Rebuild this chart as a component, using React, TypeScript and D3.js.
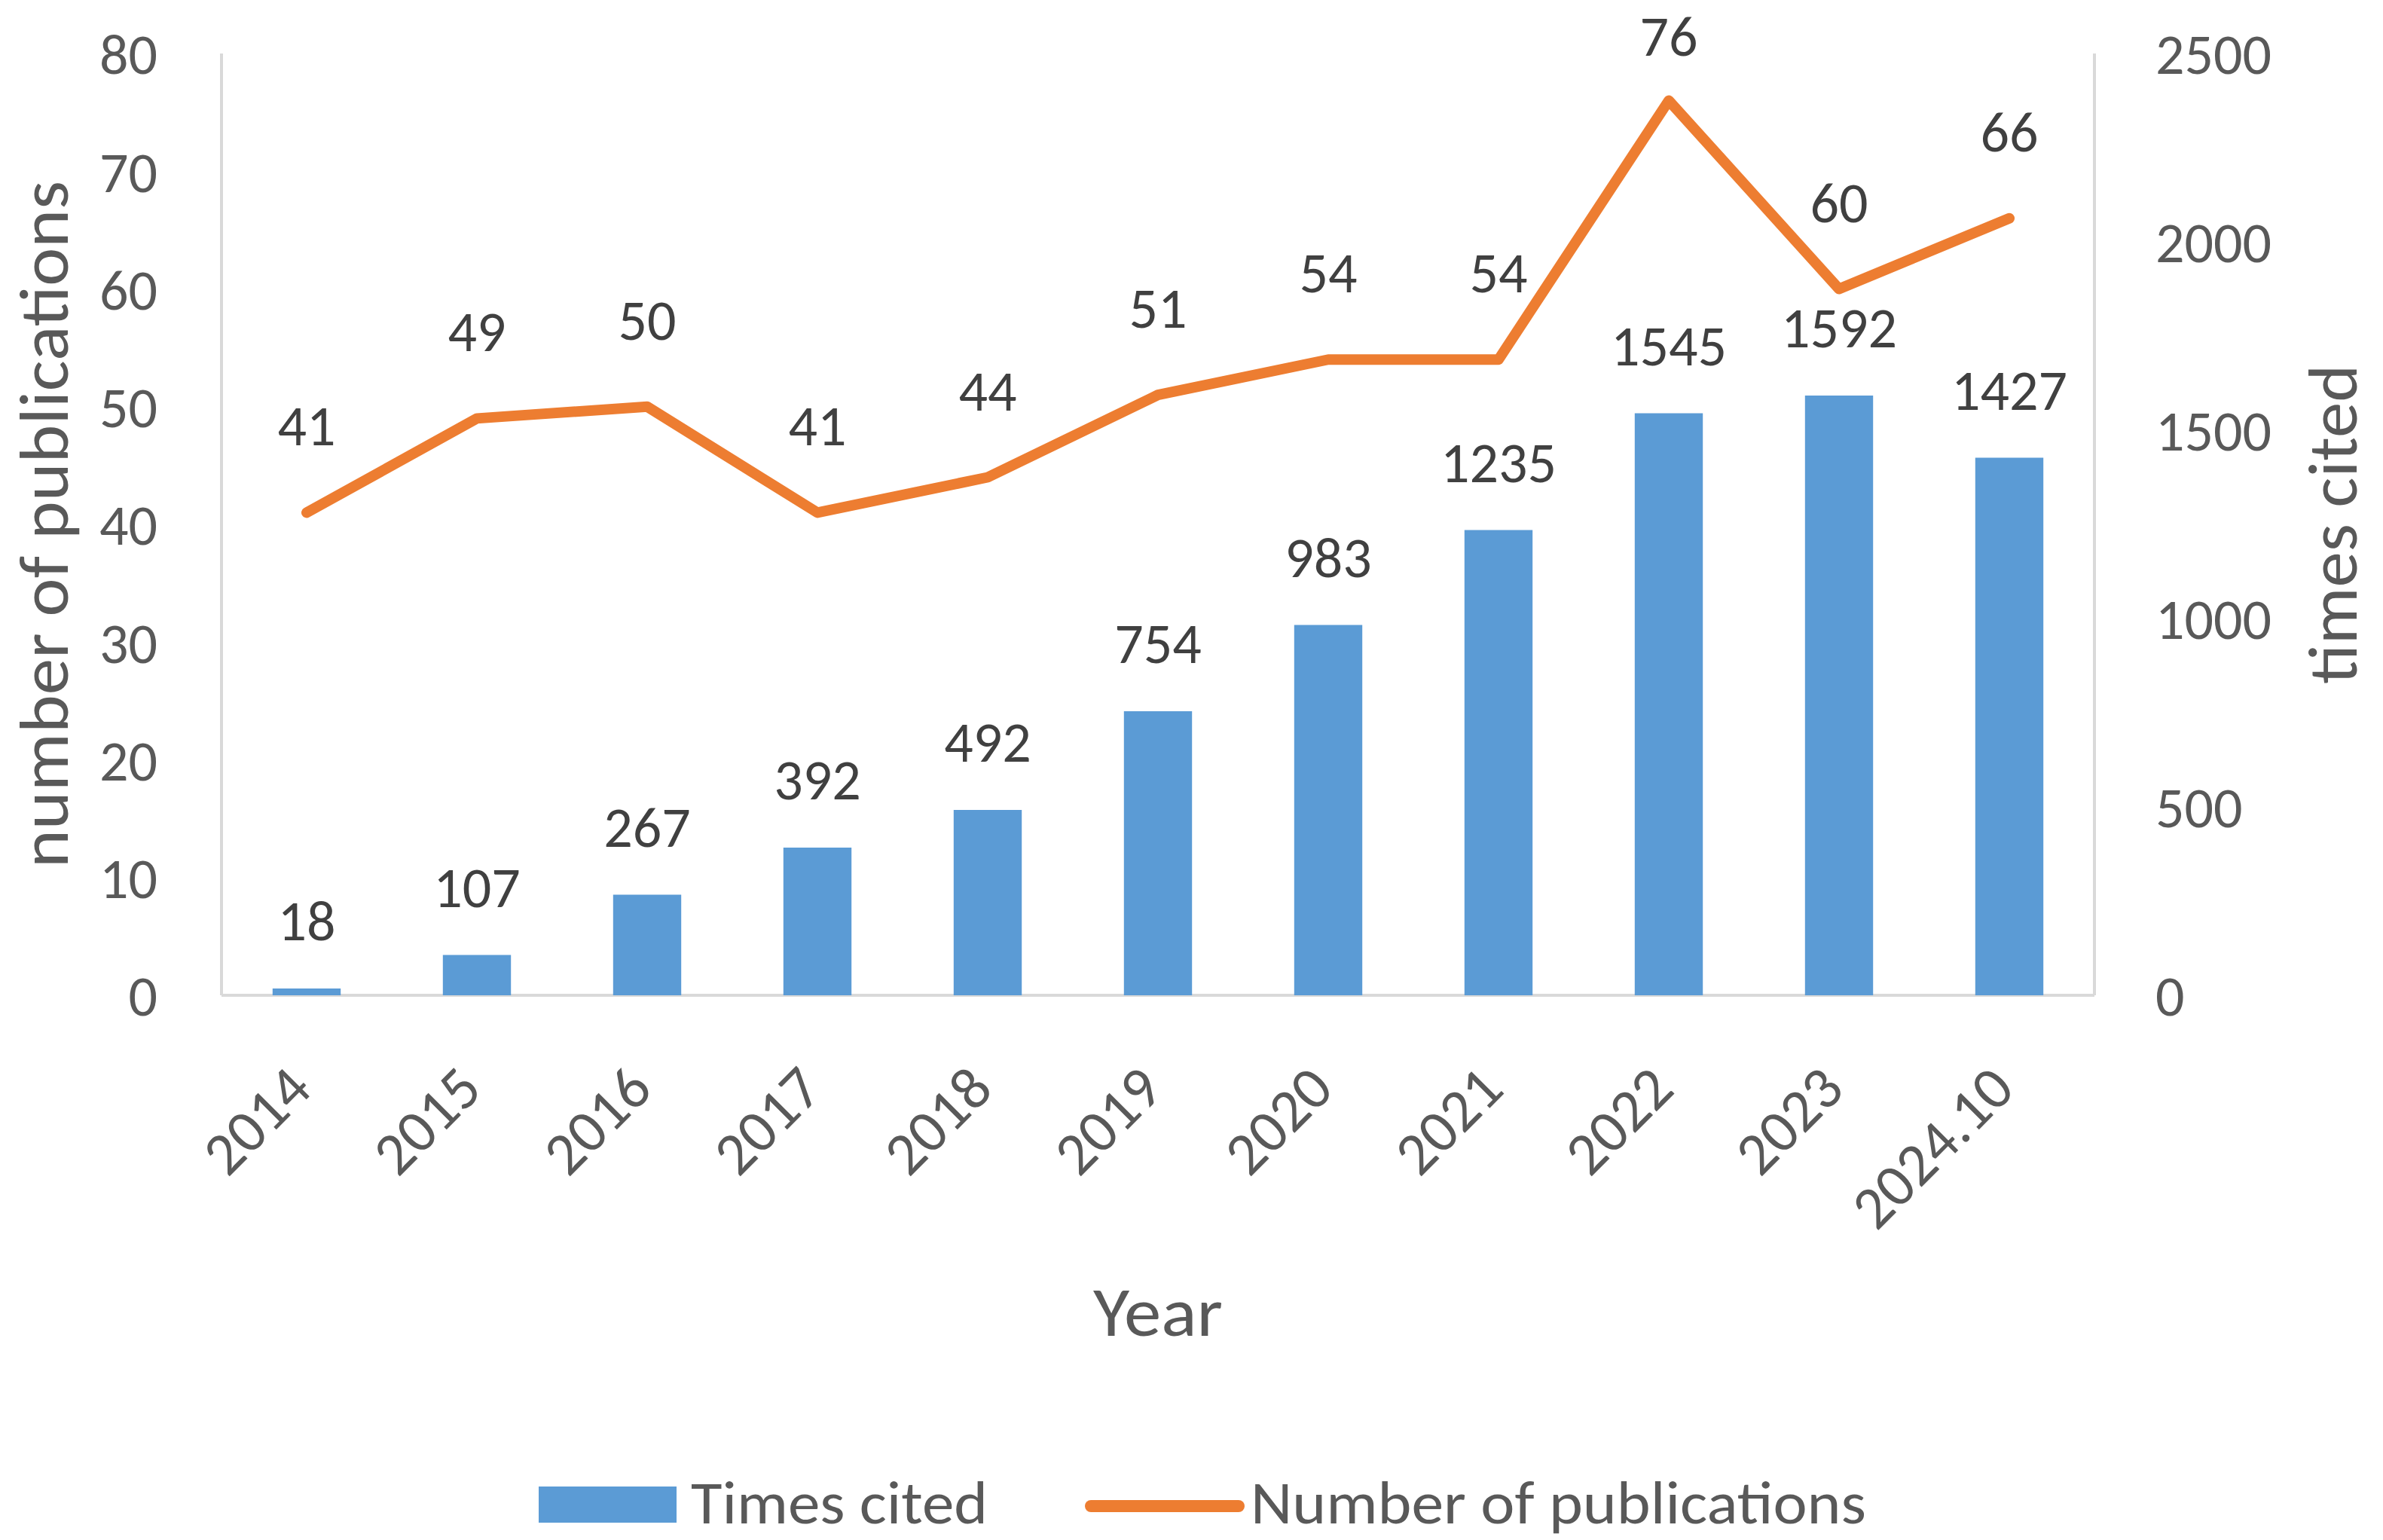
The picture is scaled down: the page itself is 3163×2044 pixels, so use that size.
import * as d3 from 'd3';

// --- Data ---
const years = ['2014', '2015', '2016', '2017', '2018', '2019', '2020', '2021', '2022', '2023', '2024.10'];
const timesCited = [18, 107, 267, 392, 492, 754, 983, 1235, 1545, 1592, 1427];
const publications = [41, 49, 50, 41, 44, 51, 54, 54, 76, 60, 66];
const leftTicks = [0, 10, 20, 30, 40, 50, 60, 70, 80];
const rightTicks = [0, 500, 1000, 1500, 2000, 2500];

const W = 3163;
const H = 2044;
const plot = { left: 294, right: 2780, top: 71, bottom: 1321 };

const BLUE = '#5B9BD5';
const ORANGE = '#ED7D31';
const TICK = '#595959';
const LABEL = '#404040';
const AXIS = '#D9D9D9';
const FONT = "Carlito, Lato, 'Open Sans', sans-serif";

const App = () => {
    const x = d3.scaleBand<string>()
        .domain(years)
        .range([plot.left, plot.right])
        .paddingInner(0.6)
        .paddingOuter(0.3);
    const yLeft = d3.scaleLinear().domain([0, 80]).range([plot.bottom, plot.top]);
    const yRight = d3.scaleLinear().domain([0, 2500]).range([plot.bottom, plot.top]);

    const cx = (d: string) => (x(d) as number) + x.bandwidth() / 2;

    const line = d3.line<number>()
        .x((_, i) => cx(years[i]))
        .y(d => yLeft(d));

    const tickSize = 76;
    const xLabelSize = 80;
    const titleSize = 92;
    const legendSize = 80;
    const midY = (plot.top + plot.bottom) / 2;

    return (
        <svg
            width={W}
            height={H}
            style={{ position: 'absolute', left: 0, top: 0, background: '#fff' }}
            fontFamily={FONT}
        >
            <rect x={0} y={0} width={W} height={H} fill="#fff" />

            {/* axes */}
            <line x1={plot.left} x2={plot.left} y1={plot.top} y2={plot.bottom} stroke={AXIS} strokeWidth={4} />
            <line x1={plot.right} x2={plot.right} y1={plot.top} y2={plot.bottom} stroke={AXIS} strokeWidth={4} />
            <line x1={plot.left} x2={plot.right} y1={plot.bottom} y2={plot.bottom} stroke={AXIS} strokeWidth={4} />

            {/* left ticks */}
            {leftTicks.map(t => (
                <text key={'l' + t} x={209} y={yLeft(t) + tickSize * 0.36} textAnchor="end"
                      fontSize={tickSize} fill={TICK}>{t}</text>
            ))}
            {/* right ticks */}
            {rightTicks.map(t => (
                <text key={'r' + t} x={2861} y={yRight(t) + tickSize * 0.36} textAnchor="start"
                      fontSize={tickSize} fill={TICK}>{t}</text>
            ))}

            {/* bars */}
            {timesCited.map((v, i) => (
                <rect key={'b' + i} x={x(years[i])} y={yRight(v)} width={x.bandwidth()}
                      height={plot.bottom - yRight(v)} fill={BLUE} />
            ))}

            {/* line */}
            <path d={line(publications) as string} fill="none" stroke={ORANGE} strokeWidth={14}
                  strokeLinejoin="round" strokeLinecap="round" />

            {/* bar labels */}
            {timesCited.map((v, i) => (
                <text key={'bl' + i} x={cx(years[i])} y={yRight(v) - 64} textAnchor="middle"
                      fontSize={tickSize} fill={LABEL}>{v}</text>
            ))}
            {/* line labels (kept inside the top edge) */}
            {publications.map((v, i) => (
                <text key={'ll' + i} x={cx(years[i])} y={Math.max(yLeft(v) - 89, 74)} textAnchor="middle"
                      fontSize={tickSize} fill={LABEL}>{v}</text>
            ))}

            {/* x labels */}
            {years.map(y => (
                <text key={'x' + y} transform={`translate(${cx(y) + 10},${1449}) rotate(-45)`}
                      textAnchor="end" fontSize={xLabelSize} fill={TICK}>{y}</text>
            ))}

            {/* axis titles */}
            <text transform={`translate(90,${midY}) rotate(-90)`} textAnchor="middle"
                  fontSize={titleSize} fill={TICK} textLength={912} lengthAdjust="spacingAndGlyphs">
                number of publications
            </text>
            <text transform={`translate(3128,${midY}) rotate(-90)`} textAnchor="middle"
                  fontSize={titleSize} fill={TICK} textLength={424} lengthAdjust="spacingAndGlyphs">
                times cited
            </text>
            <text x={(plot.left + plot.right) / 2} y={1773} textAnchor="middle"
                  fontSize={titleSize} fill={TICK} textLength={172} lengthAdjust="spacingAndGlyphs">Year</text>

            {/* legend */}
            <rect x={715} y={1973} width={183} height={48} fill={BLUE} />
            <text x={917} y={2022} fontSize={legendSize} fill={TICK}
                  textLength={394} lengthAdjust="spacingAndGlyphs">Times cited</text>
            <line x1={1448} x2={1644} y1={1999} y2={1999} stroke={ORANGE} strokeWidth={16} strokeLinecap="round" />
            <text x={1660} y={2022} fontSize={legendSize} fill={TICK}
                  textLength={817} lengthAdjust="spacingAndGlyphs">Number of publications</text>
        </svg>
    );
};

export default App;
